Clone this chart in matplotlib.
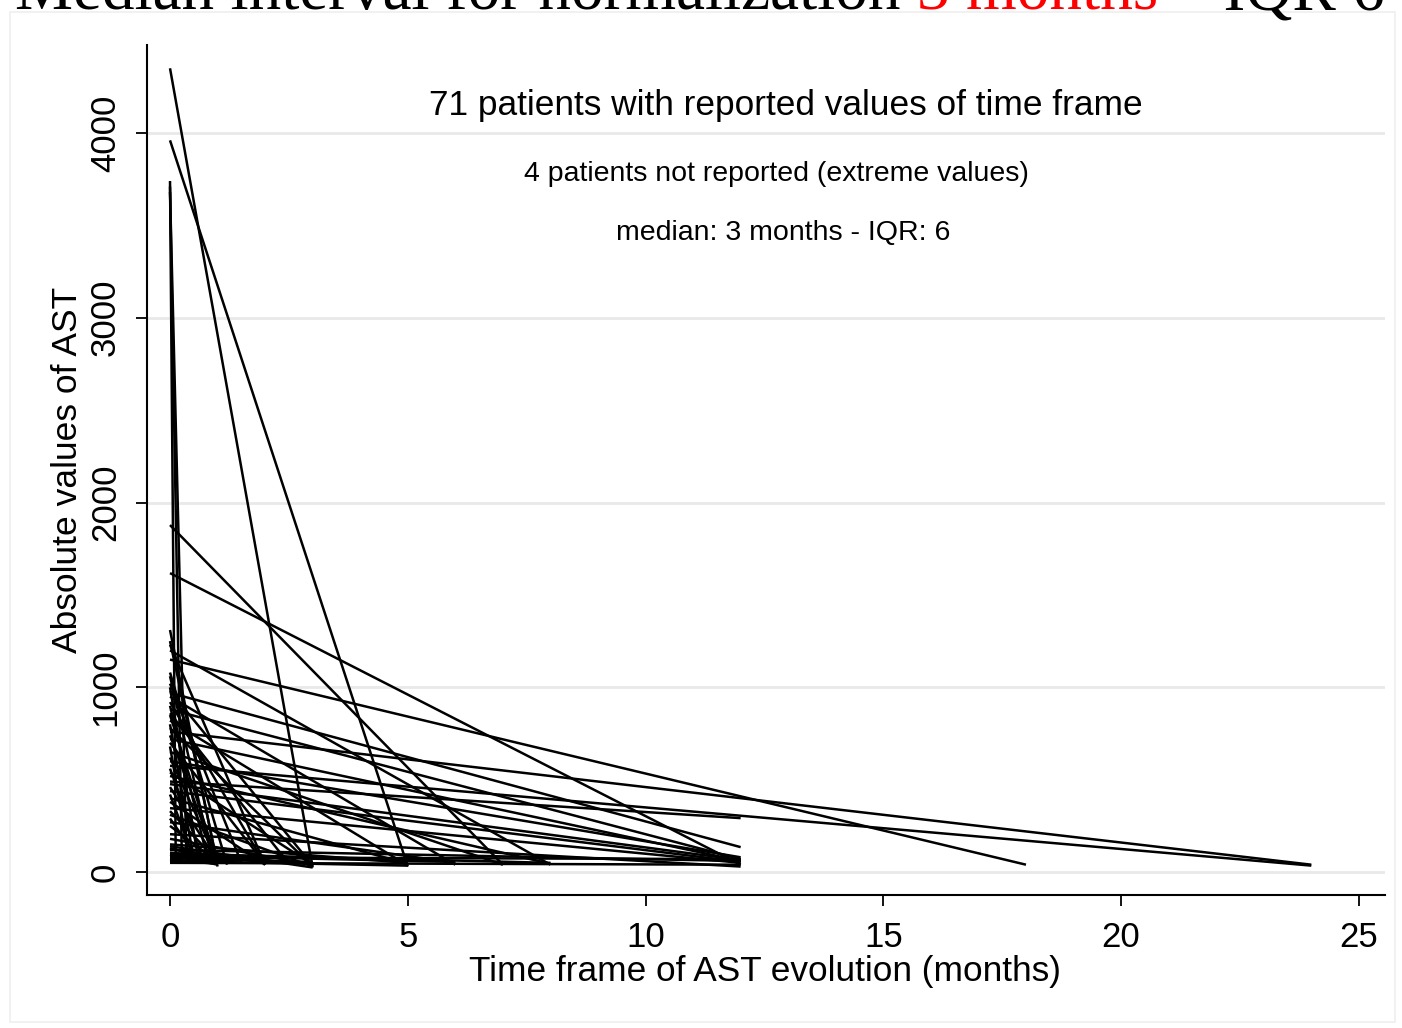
import matplotlib
matplotlib.use('Agg')
import matplotlib.pyplot as plt
from matplotlib.patches import Rectangle

# one segment per patient: AST at first report, months to last report, AST at last report
ast_start = [4350, 3960, 3740, 3710, 3680, 1878, 1618, 1310, 1250, 1230, 1200, 1150,
             1020, 1000, 970, 950, 920, 900, 880, 850, 820, 800, 780, 760,
             740, 720, 700, 680, 650, 620, 600, 575, 560, 540, 520, 490,
             476, 460, 438, 420, 400, 380, 346, 330, 310, 290, 270, 250,
             980, 205, 1080, 180, 860, 150, 140, 130, 125, 120, 1060, 105,
             100, 95, 90, 85, 80, 75, 70, 65, 60, 55, 50]
months = [3, 5, 0.12, 0.25, 0.35, 7, 12, 1, 1, 2, 8, 18,
          1.5, 0.6, 12, 6, 2, 0.8, 12, 1, 5, 0.5, 3, 24,
          1, 12, 2, 0.4, 7, 1, 12, 24, 0.7, 3, 8, 12,
          12, 1, 12, 0.5, 5, 2, 12, 1, 3, 0.6, 6, 1,
          3, 12, 1.2, 3, 2.5, 5, 3, 1, 2, 12, 0.9, 3,
          8, 1, 6, 2, 12, 3, 0.4, 1, 5, 2, 12]
ast_end = [25, 30, 90, 60, 45, 40, 40, 30, 45, 40, 40, 40,
           50, 60, 135, 40, 40, 60, 70, 45, 35, 70, 30, 40,
           50, 60, 45, 80, 40, 55, 80, 35, 60, 40, 45, 292,
           65, 55, 55, 75, 45, 40, 50, 60, 30, 70, 50, 55,
           35, 30, 40, 40, 45, 50, 25, 60, 50, 60, 55, 45,
           50, 40, 55, 65, 70, 55, 60, 45, 35, 70, 40]

x_ticks = [0, 5, 10, 15, 20, 25]
y_ticks = [0, 1000, 2000, 3000, 4000]

title_parts = [('Median interval for normalization ', 'black'),
               ('3 months', 'red'),
               (' \u2013 IQR 6', 'black')]
notes = ['71 patients with reported values of time frame',
         '4 patients not reported (extreme values)',
         'median: 3 months - IQR: 6']

W, H = 1402, 1028
plt.rcParams['font.family'] = ['Liberation Sans', 'DejaVu Sans']
fig = plt.figure(figsize=(W / 100, H / 100), dpi=100)
fig.patch.set_facecolor('white')

# faint outer frame of the graph region
fig.patches.append(Rectangle((10 / W, 6 / H), 1385 / W, 1010 / H, transform=fig.transFigure,
                             fill=False, edgecolor='#efefef', lw=1.2))

ax = fig.add_axes([147 / W, 1 - 895 / H, (1385 - 147) / W, (895 - 45) / H])
for s, t, e in zip(ast_start, months, ast_end):
    ax.plot([0, t], [s, e], color='black', lw=1.8, solid_capstyle='butt')

ax.set_xlim(-0.484, 25.55)
ax.set_ylim(-124, 4476)
ax.set_xticks(x_ticks)
ax.set_yticks(y_ticks)
ax.set_yticklabels([str(v) for v in y_ticks], rotation=90, va='center')
ax.tick_params(direction='out', length=8, width=1.3, color='black')
ax.tick_params(axis='x', labelsize=25, pad=11)
ax.tick_params(axis='y', labelsize=25, pad=10)

for side in ['top', 'right']:
    ax.spines[side].set_visible(False)
for side in ['left', 'bottom']:
    ax.spines[side].set_linewidth(1.5)

ax.yaxis.grid(True, color='#e9e9e9', lw=2)
ax.set_axisbelow(True)

fig.text(68 / W, 1 - 470 / H, 'Absolute values of AST', rotation=90,
         ha='center', va='center', fontsize=25.5)
fig.text(765 / W, 1 - 972 / H, 'Time frame of AST evolution (months)',
         ha='center', va='center', fontsize=25.4)

fig.text(786 / W, 1 - 106 / H, notes[0], ha='center', va='center', fontsize=25.4)
fig.text(776 / W, 1 - 174 / H, notes[1], ha='center', va='center', fontsize=20.5)
fig.text(783 / W, 1 - 233 / H, notes[2], ha='center', va='center', fontsize=20.5)

# title runs off the top edge; pieces are placed one after another
fig.canvas.draw()
renderer = fig.canvas.get_renderer()
x_px = 15
for txt, col in title_parts:
    t = fig.text(x_px / W, 1 - 9 / H, txt, color=col, fontsize=47,
                 family=['Liberation Serif', 'DejaVu Serif'], ha='left', va='baseline')
    x_px = t.get_window_extent(renderer).x1

fig.savefig('out.png', dpi=100)
